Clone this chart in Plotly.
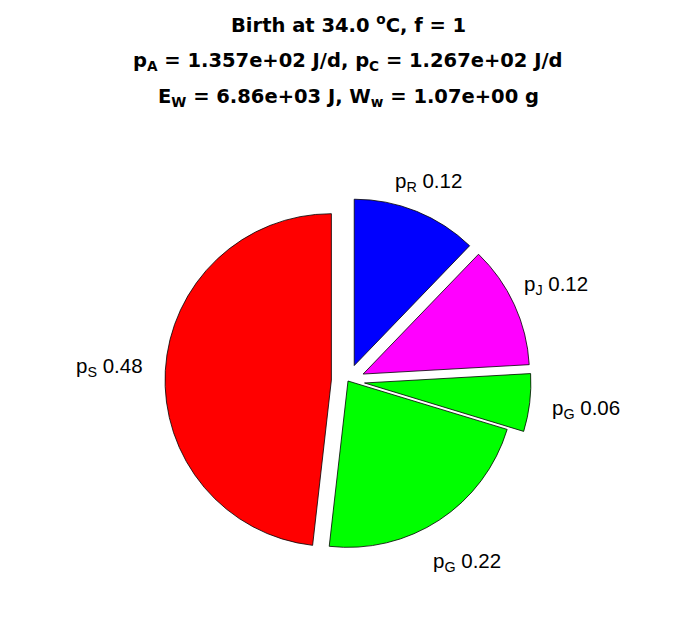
import numpy as np
import plotly.graph_objects as go

# ---- data ----
labels = ["p<sub>R</sub>", "p<sub>J</sub>", "p<sub>G</sub>", "p<sub>G</sub>", "p<sub>S</sub>"]
fractions = [0.122, 0.119, 0.056, 0.221, 0.482]
colors = ["#0000FF", "#FF00FF", "#00FF00", "#00FF00", "#FF0000"]
title_lines = [
    "Birth at 34.0 <sup>o</sup>C, f = 1",
    "p<sub>A</sub> = 1.357e+02 J/d, p<sub>C</sub> = 1.267e+02 J/d",
    "E<sub>W</sub> = 6.86e+03 J, W<sub>w</sub> = 1.07e+00 g",
]

# ---- layout geometry (figure pixel coords) ----
W, H = 696, 618
pulls = [0.1, 0.1, 0.1, 0.0, 0.1]   # exploded slices
max_pull = max(pulls)
cx_px, cy_px = 340, 373
R_box = 183  # half-size of pie box (radius incl. pull)
r = 2 * R_box / (2 + 2 * max_pull)
dom_x = [max(0.0, (2 * cx_px - W) / W), min(1.0, 2 * cx_px / W)]
dom_y = [(H - (cy_px + R_box)) / H, (H - (cy_px - R_box)) / H]

label_font = "Liberation Sans, Arial, sans-serif"
title_font = "DejaVu Sans, sans-serif"

fig = go.Figure(go.Pie(
    values=fractions,
    labels=[f"s{i}" for i in range(len(fractions))],
    sort=False,
    direction="clockwise",
    rotation=0,
    pull=pulls,
    marker=dict(colors=colors, line=dict(color="black", width=0.8)),
    textinfo="none",
    hoverinfo="none",
    domain=dict(x=dom_x, y=dom_y),
))

annotations = []
# slice labels placed from the data's cumulative angles (text box edge at ~1.12 r)
cum = np.cumsum(fractions)
total = cum[-1]
box_w = 72.0
for lab, f, c, p in zip(labels, fractions, cum, pulls):
    theta = np.deg2rad(360 * (c - f / 2) / total)
    dx, dy = np.sin(theta), -np.cos(theta)
    box_h = 22.0 if dy <= 0 else 50.0
    half = min(box_w / 2 / max(abs(dx), 1e-6), box_h / 2 / max(abs(dy), 1e-6))
    dist = p * r + 1.12 * r + half
    px = cx_px + dist * dx
    py = cy_px + dist * dy
    annotations.append(dict(
        x=px / W, y=1 - py / H, xref="paper", yref="paper",
        text=f"{lab} {f:.2f}", showarrow=False,
        xanchor="center", yanchor="middle",
        font=dict(family=label_font, size=20.5, color="black"),
    ))

title_y = [16, 53, 89]
for t, yy in zip(title_lines, title_y):
    annotations.append(dict(
        x=cx_px / W, y=1 - yy / H, xref="paper", yref="paper",
        text=f"<b>{t}</b>", showarrow=False,
        xanchor="center", yanchor="middle",
        font=dict(family=title_font, size=19.5, color="black"),
    ))

fig.update_layout(
    width=W, height=H,
    margin=dict(l=0, r=0, t=0, b=0),
    paper_bgcolor="white", plot_bgcolor="white",
    showlegend=False,
    annotations=annotations,
)

fig.write_html("out.html")
